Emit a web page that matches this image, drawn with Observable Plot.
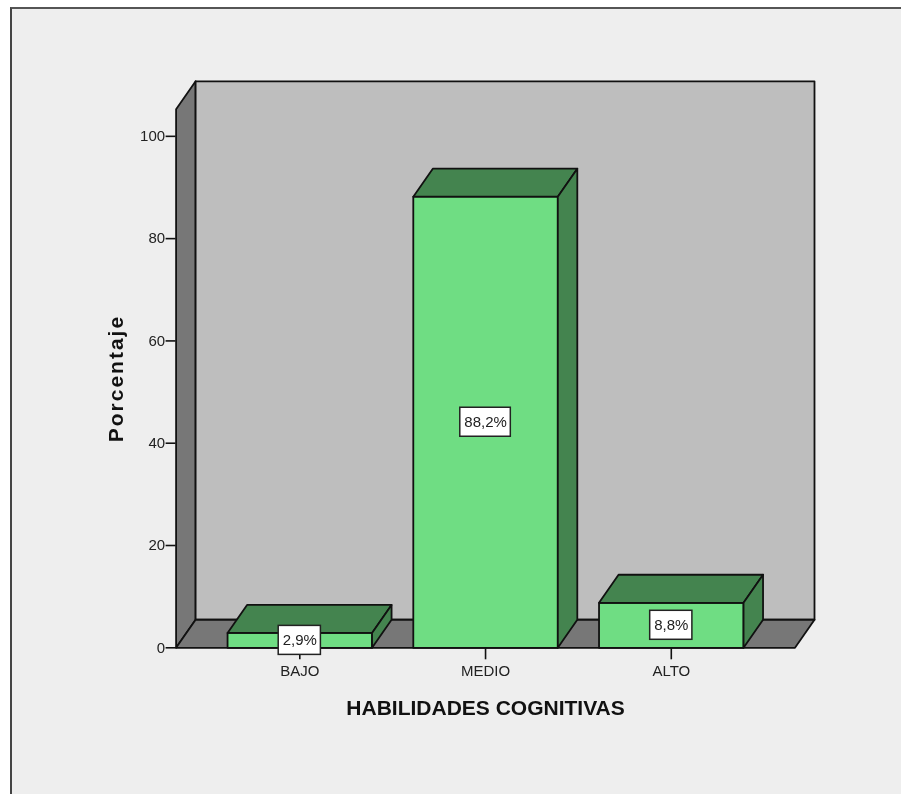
<!DOCTYPE html>
<html>
<head>
<meta charset="utf-8">
<script src="https://cdn.jsdelivr.net/npm/d3@7"></script>
<script src="https://cdn.jsdelivr.net/npm/@observablehq/plot@0.6"></script>
<style>
  html, body { margin: 0; padding: 0; background: #fff; overflow: hidden; }
  #frame { position: absolute; left: 10px; top: 7px; width: 891px; height: 787px;
           box-sizing: border-box; background: #eeeeee;
           border-top: 2px solid #555; border-left: 2px solid #444; }
  #chart { position: absolute; left: 0; top: 0; }
  #chart svg { display: block; background: transparent; filter: blur(0.5px); }
</style>
</head>
<body>
<div id="frame"></div>
<div id="chart"></div>
<script>
const categories = ["BAJO", "MEDIO", "ALTO"];
const percentages = [2.9, 88.2, 8.8];
const labels = ["2,9%", "88,2%", "8,8%"];
const yTicks = [0, 20, 40, 60, 80, 100];
const xTitle = "HABILIDADES COGNITIVAS";
const yTitle = "Porcentaje";

const green = "#6fdd83", darkGreen = "#44844f", wall = "#bebebe", floor = "#777777", ink = "#111111";

// extents of the 3-D box, in data units
const xMin = -0.666, xMax = 2.771, yMax = 110.76;
const depthX = 0.105, depthY = 5.48;
const barHalf = 0.389;
const xFront = xMax - depthX, yFront = yMax - depthY;

const poly = (pts) => pts.map(([x, y]) => ({x, y}));
const face = (pts, fill) => Plot.line(poly(pts), {
  x: "x", y: "y", curve: "linear-closed", fill, stroke: ink, strokeWidth: 1.8, strokeLinejoin: "round"
});

const barFaces = percentages.flatMap((v, i) => {
  const l = i - barHalf, r = i + barHalf;
  return [
    face([[l, 0], [r, 0], [r, v], [l, v]], green),
    face([[l, v], [r, v], [r + depthX, v + depthY], [l + depthX, v + depthY]], darkGreen),
    face([[r, 0], [r + depthX, depthY], [r + depthX, v + depthY], [r, v]], darkGreen)
  ];
});

// label boxes sized from the label text
const ctx = document.createElement("canvas").getContext("2d");
ctx.font = "15px 'Liberation Sans'";
const marginLeft = 175.6, marginRight = 87, marginTop = 80.8, marginBottom = 146.7;
const pxX = (xMax - xMin) / (901 - marginLeft - marginRight), pxY = yMax / (794 - marginTop - marginBottom);
const boxes = labels.map((t, i) => ({
  i, t, mid: percentages[i] / 2, half: (ctx.measureText(t).width + 8) / 2 * pxX, v: 14.5 * pxY
}));

const chart = Plot.plot({
  width: 901, height: 794,
  marginLeft, marginRight, marginTop, marginBottom,
  style: {background: "transparent", overflow: "visible"},
  x: {domain: [xMin, xMax], axis: null},
  y: {domain: [0, yMax], axis: null},
  marks: [
    face([[xMin, 0], [xMin, yFront], [xMin + depthX, yMax], [xMin + depthX, depthY]], floor),
    face([[xMin + depthX, depthY], [xMin + depthX, yMax], [xMax, yMax], [xMax, depthY]], wall),
    face([[xMin, 0], [xMin + depthX, depthY], [xMax, depthY], [xFront, 0]], floor),
    ...barFaces,
    Plot.axisX(categories.map((c, i) => i), {
      anchor: "bottom", tickSize: 12, tickPadding: 6, stroke: ink, strokeWidth: 1.6,
      tickFormat: (i) => categories[i], fontSize: 15, fontFamily: "Liberation Sans", fill: "#222", label: null
    }),
    Plot.rect(boxes, {
      x1: (d) => d.i - d.half, x2: (d) => d.i + d.half,
      y1: (d) => d.mid - d.v, y2: (d) => d.mid + d.v,
      fill: "white", stroke: "#222", strokeWidth: 1.5
    }),
    Plot.text(boxes, {
      x: "i", y: "mid", text: "t", fontSize: 15, fontFamily: "Liberation Sans", fill: "#222"
    }),
    Plot.axisY(yTicks, {
      anchor: "left", tickSize: 10, tickPadding: 1, stroke: ink, strokeWidth: 1.6,
      fontSize: 15, fontFamily: "Liberation Sans", fill: "#222", label: null
    }),
    Plot.text([xTitle], {
      x: [1], frameAnchor: "bottom", dy: 67, text: (d) => d,
      fontSize: 21, fontWeight: "bold", fontFamily: "Liberation Sans", fill: "#111"
    }),
    Plot.text([yTitle], {
      y: [yFront / 2], frameAnchor: "left", textAnchor: "middle", dx: -60, rotate: -90, text: (d) => d,
      fontSize: 21, fontWeight: "bold", fontFamily: "Liberation Sans", fill: "#111"
    })
  ]
});
d3.select(chart).selectAll("text").filter(function () { return this.textContent === yTitle; })
  .style("letter-spacing", "2px");
document.getElementById("chart").append(chart);
</script>
</body>
</html>
